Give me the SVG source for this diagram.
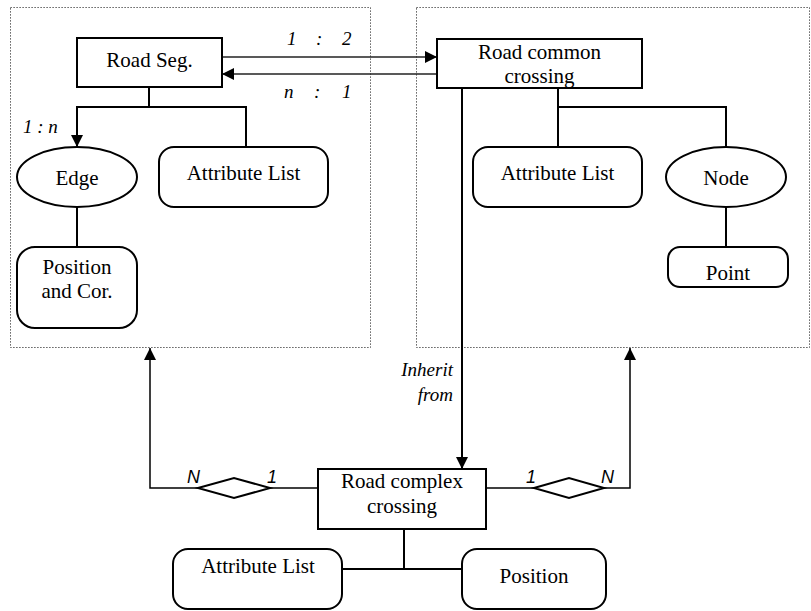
<svg xmlns="http://www.w3.org/2000/svg" width="811" height="611" viewBox="0 0 811 611" font-family="Liberation Serif, Times New Roman, serif">
<defs>
<marker id="ah" markerUnits="userSpaceOnUse" markerWidth="12" markerHeight="12" refX="12" refY="6" orient="auto">
<path d="M0,0 L12,6 L0,12 z" fill="#000"/>
</marker>
</defs>
<rect x="0" y="0" width="811" height="611" fill="#fff"/>
<g id="frames" fill="none" stroke="#333" stroke-width="1" stroke-dasharray="1.2 1.8">
<rect x="10.5" y="7.5" width="360" height="340"/>
<rect x="416.5" y="7.5" width="393" height="340"/>
</g>

<g id="connectors" fill="none" stroke="#000" stroke-width="2">
<line x1="222" y1="57" x2="437" y2="57" stroke-width="1.4" stroke="#222" marker-end="url(#ah)"/>
<line x1="437" y1="74" x2="222" y2="74" stroke-width="1.4" stroke="#222" marker-end="url(#ah)"/>
<polyline points="149,87 149,107"/>
<polyline points="246,147 246,107 77,107 77,147" marker-end="url(#ah)"/>
<line x1="77" y1="207" x2="77" y2="247"/>
<polyline points="558,88 558,147"/>
<polyline points="558,107 726,107 726,147"/>
<line x1="726" y1="207" x2="726" y2="247"/>
<line x1="462" y1="88" x2="462" y2="469" marker-end="url(#ah)"/>
<polyline points="318,488 270,488" stroke-width="1.5"/>
<polyline points="198,488 150,488 150,348" stroke-width="1.5" marker-end="url(#ah)"/>
<polygon points="198,488 234,478 270,488 234,498" fill="#fff"/>
<polyline points="486,488 534,488" stroke-width="1.5"/>
<polyline points="604,488 630,488 630,348" stroke-width="1.5" marker-end="url(#ah)"/>
<polygon points="534,488 569,478 604,488 569,498" fill="#fff"/>
<polyline points="404,529 404,569"/>
<polyline points="342,569 462,569"/>
</g>

<g id="nodes" font-family="Liberation Serif, Times New Roman, serif" font-size="21" text-anchor="middle" fill="#000">
<g id="road-seg">
<rect x="77" y="38" width="145" height="49" fill="#fff" stroke="#000" stroke-width="2"/>
<text x="149.5" y="67">Road Seg.</text>
</g>
<g id="road-common-crossing">
<rect x="437" y="39" width="205" height="49" fill="#fff" stroke="#000" stroke-width="2"/>
<text x="539.5" y="59">Road common</text>
<text x="539.5" y="83">crossing</text>
</g>
<g id="edge">
<ellipse cx="77" cy="177" rx="60" ry="30" fill="#fff" stroke="#000" stroke-width="2"/>
<text x="77" y="185">Edge</text>
</g>
<g id="attr-list-1">
<rect x="159" y="147" width="169" height="60" rx="15" fill="#fff" stroke="#000" stroke-width="2"/>
<text x="243.5" y="180">Attribute List</text>
</g>
<g id="position-cor">
<rect x="17" y="247" width="120" height="81" rx="18" fill="#fff" stroke="#000" stroke-width="2"/>
<text x="77" y="274">Position</text>
<text x="77" y="298">and Cor.</text>
</g>
<g id="attr-list-2">
<rect x="473" y="147" width="169" height="60" rx="15" fill="#fff" stroke="#000" stroke-width="2"/>
<text x="557.5" y="180">Attribute List</text>
</g>
<g id="node">
<ellipse cx="726" cy="177" rx="60" ry="30" fill="#fff" stroke="#000" stroke-width="2"/>
<text x="726" y="185">Node</text>
</g>
<g id="point">
<rect x="668" y="247" width="120" height="40" rx="12" fill="#fff" stroke="#000" stroke-width="2"/>
<text x="728" y="280">Point</text>
</g>
<g id="road-complex-crossing">
<rect x="318" y="469" width="168" height="60" fill="#fff" stroke="#000" stroke-width="2"/>
<text x="402" y="488">Road complex</text>
<text x="402" y="513">crossing</text>
</g>
<g id="attr-list-3">
<rect x="173" y="549" width="169" height="60" rx="15" fill="#fff" stroke="#000" stroke-width="2"/>
<text x="258" y="573">Attribute List</text>
</g>
<g id="position">
<rect x="462" y="549" width="144" height="60" rx="15" fill="#fff" stroke="#000" stroke-width="2"/>
<text x="534" y="583">Position</text>
</g>
</g>

<g id="labels" font-family="Liberation Serif, Times New Roman, serif" font-size="19" font-style="italic" fill="#000">
<text x="287 316 342" y="45">1:2</text>
<text x="284 314 342" y="98">n:1</text>
<text x="23" y="133">1 : n</text>
<text x="453" y="376" text-anchor="end">Inherit</text>
<text x="453" y="401" text-anchor="end">from</text>
</g>
<g id="cardinalities" font-family="Liberation Sans, Arial, sans-serif" font-size="18" font-style="italic" fill="#000">
<text x="187" y="483">N</text>
<text x="267" y="483">1</text>
<text x="526" y="483">1</text>
<text x="601" y="483">N</text>
</g>
</svg>
